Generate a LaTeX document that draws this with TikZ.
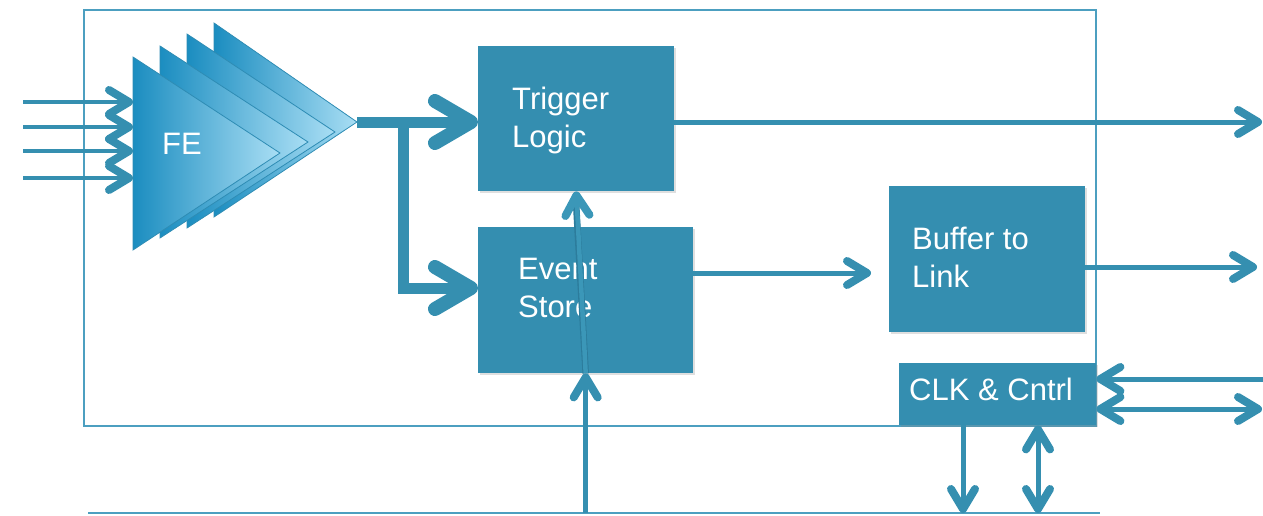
\documentclass[tikz,border=0pt]{standalone}
\usepackage{fontspec}
\setmainfont{Liberation Sans}
\usetikzlibrary{arrows.meta,shadows}

\definecolor{blk}{HTML}{348EB0}
\definecolor{wirec}{HTML}{358FB0}
\definecolor{wirelite}{HTML}{3B97B8}
\definecolor{wireedge}{HTML}{2C7C9C}
\definecolor{rim}{HTML}{4C9FC0}
\definecolor{feDark}{HTML}{1B8DC0}
\definecolor{feLight}{HTML}{A9DEF4}
\definecolor{feEdge}{HTML}{2E8CB4}

\tikzset{
  blockbox/.style={fill=blk, draw=none, inner sep=0pt, anchor=north west,
    drop shadow={shadow xshift=1.5pt, shadow yshift=-2pt, opacity=.25}},
  lbl/.style={text=white, font=\fontsize{31}{38}\selectfont, align=left,
    anchor=north west, inner sep=0pt},
  rimline/.style={draw=rim, line width=1.5pt},
  thinbarb/.tip={Straight Barb[length=20pt,width=24pt,line width=8pt,round]},
  bigbarb/.tip={Straight Barb[length=36pt,width=42pt,line width=14pt,round]},
  wire/.style={draw=wirec, line width=5pt, -thinbarb},
  wirein/.style={draw=wirec, line width=4pt, -thinbarb},
  bus/.style={draw=wirec, line width=11pt, -bigbarb},
  stage/.style={draw=feEdge, line width=0.8pt, left color=feDark, right color=feLight},
}

\begin{document}
\begin{tikzpicture}[x=1pt,y=-1pt]
\useasboundingbox (0,0) rectangle (1263,515);

% module outline and the lower bus line
\node[draw=rim, line width=1.5pt, minimum width=1012pt, minimum height=416pt,
      anchor=north west, inner sep=0pt] (frame) at (83,9) {};
\coordinate (busL) at (88,513);
\coordinate (busR) at (1100,513);
\draw[rimline] (busL) -- (busR);

% stacked front-end amplifiers, back to front
\path[stage] (214,23) -- (214,217) -- (357,122) -- cycle;
\path[stage] (187,34) -- (187,228) -- (335,132) -- cycle;
\path[stage] (160,46) -- (160,238) -- (308,142) -- cycle;
\path[stage] (133,57) -- (133,250) -- (280,153) -- cycle;
\coordinate (feTip) at (357,122);
\node[lbl] (feLabel) at (162,133) {FE};

% analogue inputs
\foreach \y [count=\i] in {102,127,151,178} {
  \coordinate (in\i) at (23,\y);
  \coordinate (fe\i) at (133,\y);
  \draw[wirein] (in\i) -- (fe\i);
}

% processing blocks
\node[blockbox, minimum width=196pt, minimum height=145pt] (TL) at (478,46) {};
\node[blockbox, minimum width=215pt, minimum height=146pt] (ES) at (478,227) {};
\node[blockbox, minimum width=196pt, minimum height=146pt] (BL) at (889,186) {};
\node[blockbox, minimum width=197pt, minimum height=62pt] (CK) at (899,363) {};

\node[lbl] (tlText) at (512,87) {Trigger\\Logic};
\node[lbl] (esText) at (518,258) {Event\\Store};
\node[lbl] (blText) at (912,227) {Buffer to\\Link};
\node[lbl] (ckText) at (909,378) {CLK \& Cntrl};

% front-end output bus, split to trigger and store
\coordinate (fork) at (403,122);
\coordinate (elbow) at (403,288);
\draw[bus] (feTip) -- (feTip -| TL.west);
\draw[bus] (fork) -- (elbow) -- (elbow -| ES.west);

% data path
\coordinate (trigOut) at (1262,122);
\draw[wire] (TL.east |- trigOut) -- (trigOut);
\coordinate (evRow) at (0,273);
\draw[wire, shorten >=18pt] (ES.east |- evRow) -- (BL.west |- evRow);
\coordinate (linkOut) at (1257,267);
\draw[wire] (BL.east |- linkOut) -- (linkOut);

% external trigger line: up to the event store, then on through it
\draw[wire] (ES.south |- busL) -- (ES.south);
\draw[draw=wireedge, line width=6.5pt] (ES.south) -- ([yshift=-14pt]TL.south);
\draw[wire, draw=wirelite, line width=4.5pt] (ES.south) -- (TL.south);

% clock and control links
\coordinate (ckA) at (1263,379);
\coordinate (ckB) at (1262,409);
\draw[wire] (ckA) -- (CK.east |- ckA);
\draw[wire, thinbarb-thinbarb] (CK.east |- ckB) -- (ckB);
\coordinate (ckC) at (963,513);
\coordinate (ckD) at (1038,513);
\draw[wire] (CK.south -| ckC) -- (ckC);
\draw[wire, thinbarb-thinbarb] (CK.south -| ckD) -- (ckD);
\end{tikzpicture}
\end{document}
